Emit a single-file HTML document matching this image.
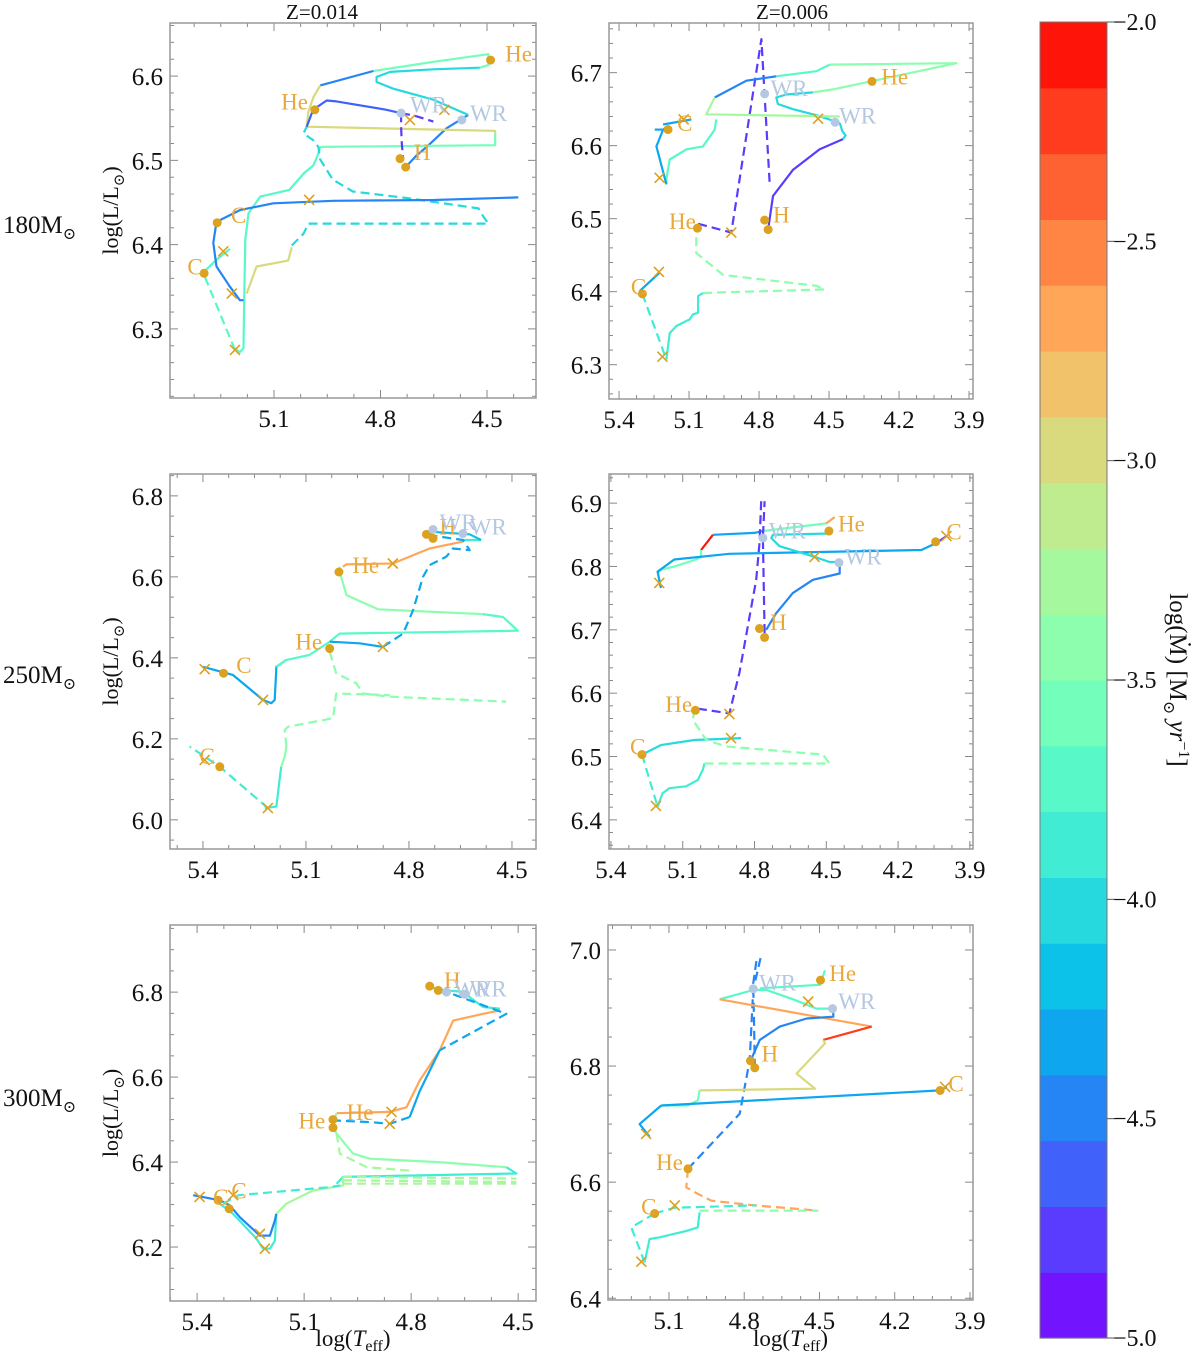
<!DOCTYPE html>
<html><head><meta charset="utf-8"><title>HR tracks</title>
<style>
html,body{margin:0;padding:0;background:#fff;}
svg{display:block;font-family:"Liberation Serif","DejaVu Serif",serif;}
svg text{font-family:"Liberation Serif","DejaVu Serif",serif;}
</style></head>
<body>
<svg id="fig" width="1200" height="1357" viewBox="0 0 1200 1357" xmlns="http://www.w3.org/2000/svg" font-family="Liberation Serif, DejaVu Serif, serif"></svg>
<script>
// ---------- DATA (logTeff, logL pairs; c = log Mdot colour value; d = dashed) ----------
const p1Tracks = [
 {c:-4.4,d:0,p:[4.729,6.492,4.698,6.506,4.670,6.516,4.614,6.538,4.553,6.554]},
 {c:-4.05,d:0,p:[4.553,6.554,4.651,6.572,4.764,6.585,4.811,6.593,4.811,6.599,4.773,6.605,4.651,6.608,4.520,6.610]},
 {c:-3.6,d:0,p:[4.520,6.610,4.496,6.613,4.496,6.626,4.651,6.617,4.820,6.606]},
 {c:-4.4,d:0,p:[4.820,6.606,4.970,6.589]},
 {c:-3.0,d:0,p:[4.970,6.589,4.989,6.575,5.003,6.558,5.008,6.540,4.477,6.535,4.477,6.532]},
 {c:-3.55,d:0,p:[4.477,6.532,4.477,6.518,4.970,6.516]},
 {c:-3.75,d:0,p:[4.970,6.516,4.975,6.508,4.989,6.494,5.015,6.485,5.057,6.465,5.139,6.457,5.172,6.437,5.181,6.406,5.184,6.334,5.186,6.277,5.197,6.272,5.210,6.277]},
 {c:-3.0,d:0,p:[5.177,6.342,5.149,6.374,5.060,6.381,5.050,6.397]},
 {c:-4.0,d:1,p:[5.050,6.399,5.017,6.413,5.003,6.425,4.496,6.425,4.510,6.433,4.524,6.443,4.720,6.455,4.878,6.463,4.934,6.477,4.970,6.501,4.975,6.516,4.990,6.524,5.017,6.532,5.008,6.540]},
 {c:-3.75,d:1,p:[5.210,6.275,5.299,6.366]},
 {c:-3.8,d:0,p:[5.297,6.368,5.262,6.382,5.224,6.395]},
 {c:-4.45,d:0,p:[5.186,6.334,5.196,6.334,5.224,6.350,5.262,6.374,5.271,6.402,5.262,6.427,5.196,6.441,5.102,6.449,4.933,6.452,4.651,6.453,4.412,6.456]},
 {c:-4.6,d:0,p:[5.008,6.540,4.990,6.560,4.952,6.571,4.924,6.570,4.783,6.560,4.742,6.556]},
 {c:-4.7,d:1,p:[4.742,6.556,4.704,6.553,4.651,6.546]},
 {c:-4.7,d:1,p:[4.742,6.556,4.742,6.540,4.740,6.520,4.736,6.501]}
];
const p1Circles = [4.490,6.619, 4.985,6.560, 4.745,6.502, 4.729,6.492, 5.260,6.426, 5.297,6.366];
const p1WR = [4.742,6.556, 4.571,6.548];
const p1Crosses = [4.620,6.560, 4.717,6.548, 5.001,6.453, 5.243,6.392, 5.219,6.342, 5.210,6.275];
const p1Labels = [["He",4.449,6.627],["He",5.080,6.570],["H",4.706,6.510],["C",5.221,6.435],["C",5.344,6.374]];
const p1WRLabels = [["WR",4.717,6.566],["WR",4.548,6.556]];

const p2Tracks = [
 {c:-4.85,d:1,p:[5.061,6.493,4.919,6.481,4.790,6.746,4.754,6.545]},
 {c:-4.85,d:0,p:[4.761,6.485,4.740,6.531,4.654,6.567,4.540,6.595,4.440,6.609]},
 {c:-4.0,d:0,p:[4.440,6.609,4.429,6.614,4.443,6.620,4.454,6.631]},
 {c:-4.1,d:0,p:[4.454,6.631,4.547,6.641,4.654,6.650,4.719,6.657,4.726,6.666,4.683,6.670,4.569,6.673]},
 {c:-3.4,d:0,p:[4.569,6.673,4.483,6.677,3.954,6.713,4.497,6.711]},
 {c:-3.7,d:0,p:[4.497,6.711,4.554,6.702,4.726,6.695]},
 {c:-4.4,d:0,p:[4.726,6.695,4.854,6.689,4.990,6.666]},
 {c:-3.3,d:0,p:[4.990,6.666,5.026,6.643,4.454,6.640]},
 {c:-3.8,d:0,p:[4.983,6.636,4.990,6.622,5.040,6.599,5.111,6.595,5.183,6.581,5.197,6.554,5.197,6.547]},
 {c:-4.3,d:0,p:[5.197,6.547,5.240,6.599,5.211,6.622,5.190,6.627]},
 {c:-4.3,d:0,p:[5.247,6.622,5.190,6.622]},
 {c:-4.3,d:0,p:[5.211,6.629,5.090,6.636]},
 {c:-4.3,d:0,p:[5.311,6.401,5.226,6.426]},
 {c:-3.85,d:1,p:[5.300,6.397,5.197,6.307]},
 {c:-3.85,d:0,p:[5.197,6.307,5.183,6.343,5.154,6.353,5.097,6.362,5.083,6.369,5.061,6.371,5.061,6.394,5.040,6.398]},
 {c:-3.45,d:1,p:[5.040,6.398,4.969,6.399,4.519,6.403,4.554,6.408,4.954,6.423,5.069,6.453,5.069,6.481,5.061,6.487]}
];
const p2Circles = [4.316,6.688, 4.776,6.498, 4.761,6.485, 5.064,6.487, 5.190,6.622, 5.300,6.397];
const p2WR = [4.776,6.671, 4.474,6.632];
const p2Crosses = [4.547,6.637, 4.919,6.481, 5.226,6.556, 5.123,6.636, 5.229,6.427, 5.214,6.311];
const p2Labels = [["He",4.276,6.695],["H",4.740,6.506],["He",5.186,6.497],["C",5.151,6.631],["C",5.349,6.407]];
const p2WRLabels = [["WR",4.751,6.679],["WR",4.457,6.641]];

const p3Tracks = [
 {c:-4.35,d:0,p:[5.400,6.378,5.313,6.358,5.283,6.337,5.225,6.296,5.201,6.288,5.191,6.296,5.186,6.378,5.157,6.395]},
 {c:-3.8,d:0,p:[5.186,6.378,5.157,6.395,5.090,6.407,5.031,6.440,5.002,6.460,4.483,6.467,4.526,6.501,4.585,6.508]},
 {c:-3.35,d:0,p:[4.585,6.508,4.890,6.520,4.982,6.555,5.002,6.612,5.002,6.625]},
 {c:-2.75,d:0,p:[4.992,6.625,4.982,6.631,4.847,6.633,4.740,6.670,4.643,6.687]},
 {c:-3.9,d:0,p:[4.643,6.691,4.590,6.691]},
 {c:-4.3,d:0,p:[5.031,6.440,4.944,6.436,4.876,6.427]},
 {c:-4.3,d:1,p:[4.876,6.427,4.817,6.460,4.788,6.518,4.759,6.600,4.740,6.629,4.691,6.650,4.672,6.670,4.623,6.666,4.643,6.691,4.740,6.703]},
 {c:-4.2,d:0,p:[4.740,6.703,4.730,6.711,4.623,6.705,4.590,6.691]},
 {c:-3.4,d:1,p:[5.031,6.415,5.012,6.362,4.953,6.337,4.934,6.312,4.856,6.304,4.517,6.292]},
 {c:-3.4,d:1,p:[5.157,6.181,5.162,6.222,5.152,6.230,5.021,6.251,5.012,6.312,4.856,6.308]},
 {c:-3.4,d:0,p:[5.172,6.131,5.162,6.156,5.157,6.181]},
 {c:-3.9,d:0,p:[5.172,6.131,5.177,6.098,5.186,6.033,5.220,6.029]},
 {c:-3.9,d:1,p:[5.211,6.029,5.351,6.131,5.439,6.181]}
];
const p3Circles = [4.749,6.705, 4.730,6.695, 5.004,6.612, 5.031,6.423, 5.340,6.362, 5.351,6.131];
const p3WR = [4.730,6.717, 4.643,6.707];
const p3Crosses = [4.847,6.633, 4.876,6.427, 5.395,6.372, 5.225,6.296, 5.395,6.148, 5.211,6.029];
const p3Labels = [["H",4.711,6.724],["He",4.965,6.629],["He",5.131,6.440],["C",5.303,6.382],["C",5.410,6.158]];
const p3WRLabels = [["WR",4.711,6.736],["WR",4.623,6.724]];

const p4Tracks = [
 {c:-4.35,d:0,p:[4.974,6.850,4.800,6.853,4.765,6.856]},
 {c:-3.6,d:0,p:[4.765,6.856,4.500,6.868,4.465,6.878]},
 {c:-2.7,d:0,p:[4.500,6.868,4.465,6.878]},
 {c:-2.1,d:0,p:[5.023,6.826,4.974,6.850]},
 {c:-3.6,d:0,p:[5.023,6.826,5.023,6.815,5.044,6.811,5.135,6.800,5.191,6.795,5.205,6.789]},
 {c:-4.3,d:0,p:[5.191,6.766,5.205,6.792,5.135,6.811,4.905,6.820,4.103,6.826,4.040,6.837]},
 {c:-4.85,d:0,p:[4.040,6.837,3.998,6.848]},
 {c:-4.0,d:0,p:[4.486,6.852,4.723,6.850,4.730,6.845,4.695,6.832,4.556,6.816,4.486,6.807,4.444,6.807]},
 {c:-4.4,d:0,p:[4.444,6.807,4.444,6.789,4.556,6.779,4.640,6.758,4.710,6.726,4.751,6.700]},
 {c:-4.85,d:1,p:[4.758,6.695,4.765,6.845,4.758,6.903]},
 {c:-4.85,d:1,p:[4.772,6.903,4.779,6.837,4.793,6.779,4.863,6.632,4.905,6.568,5.044,6.576]},
 {c:-4.0,d:0,p:[5.270,6.503,5.191,6.518,5.051,6.526,4.856,6.529]},
 {c:-3.9,d:1,p:[5.270,6.503,5.205,6.421]},
 {c:-3.9,d:0,p:[5.205,6.421,5.184,6.442,5.156,6.450,5.086,6.453,5.037,6.463,5.016,6.479,5.009,6.489]},
 {c:-3.5,d:1,p:[5.009,6.489,4.486,6.489,4.514,6.503,4.919,6.516,5.002,6.526,5.058,6.558,5.051,6.573]}
];
const p4Circles = [4.489,6.856, 4.043,6.839, 4.779,6.702, 4.758,6.688, 5.047,6.573, 5.270,6.503];
const p4WR = [4.765,6.845, 4.447,6.806];
const p4Crosses = [4.549,6.815, 3.998,6.848, 5.198,6.774, 4.905,6.567, 4.898,6.529, 5.212,6.422];
const p4Labels = [["He",4.451,6.868],["H",4.735,6.712],["He",5.173,6.583],["C",5.320,6.516],["C",3.998,6.855]];
const p4WRLabels = [["WR",4.740,6.857],["WR",4.423,6.816]];

const p5Tracks = [
 {c:-3.9,d:0,p:[4.753,6.812,4.701,6.804,4.645,6.800,4.636,6.788,4.598,6.765,4.551,6.761]},
 {c:-2.75,d:0,p:[4.551,6.757,4.598,6.749,4.682,6.733,4.720,6.663,4.776,6.592,4.813,6.529,4.860,6.518,5.009,6.515]},
 {c:-4.3,d:1,p:[4.682,6.795,4.533,6.749,4.720,6.663]},
 {c:-4.3,d:0,p:[4.720,6.663,4.776,6.567,4.804,6.506]},
 {c:-4.3,d:1,p:[4.804,6.506,4.860,6.490,4.916,6.494,5.019,6.498]},
 {c:-3.35,d:0,p:[5.009,6.515,5.019,6.498,5.019,6.482,5.009,6.467,4.963,6.420,4.916,6.408,4.724,6.400,4.533,6.388]},
 {c:-3.9,d:0,p:[4.533,6.388,4.505,6.373,4.991,6.365,5.009,6.349]},
 {c:-3.3,d:1,p:[5.009,6.467,5.000,6.420,4.925,6.388,4.804,6.380]},
 {c:-3.3,d:1,p:[4.991,6.365,4.505,6.361]},
 {c:-3.3,d:1,p:[4.991,6.357,4.505,6.353]},
 {c:-3.3,d:1,p:[4.991,6.349,4.505,6.349]},
 {c:-3.3,d:0,p:[4.991,6.365,4.991,6.345,5.075,6.333,5.150,6.302,5.178,6.278]},
 {c:-3.9,d:0,p:[5.178,6.278,5.182,6.215,5.196,6.196,5.215,6.196,5.234,6.220,5.299,6.278,5.336,6.302]},
 {c:-4.4,d:0,p:[5.411,6.322,5.336,6.310,5.308,6.298,5.280,6.270,5.224,6.227,5.196,6.227,5.182,6.263,5.178,6.278]},
 {c:-3.9,d:1,p:[5.327,6.302,5.284,6.322,5.028,6.341,4.999,6.345]}
];
const p5Circles = [4.748,6.814, 4.724,6.804, 5.019,6.500, 5.019,6.481, 5.341,6.310, 5.310,6.290];
const p5WR = [4.701,6.800, 4.650,6.795];
const p5Crosses = [4.855,6.518, 4.860,6.490, 5.393,6.318, 5.299,6.322, 5.224,6.231, 5.210,6.196];
const p5Labels = [["H",4.708,6.829],["He",4.981,6.518],["He",5.116,6.498],["C",5.355,6.318],["C",5.304,6.333]];
const p5WRLabels = [["WR",4.681,6.808],["WR",4.636,6.808]];

const p6Tracks = [
 {c:-4.55,d:1,p:[5.024,6.623,4.818,6.718,4.778,6.810,4.764,6.931,4.734,6.988]},
 {c:-4.55,d:1,p:[4.758,6.797,4.761,6.880,4.764,6.942,4.751,6.982]},
 {c:-3.7,d:0,p:[4.738,6.934,4.498,6.940,4.478,6.965]},
 {c:-3.7,d:0,p:[4.898,6.915,4.764,6.931,4.711,6.931,4.605,6.915,4.512,6.899,4.445,6.899]},
 {c:-2.7,d:0,p:[4.898,6.915,4.292,6.868]},
 {c:-2.2,d:0,p:[4.292,6.868,4.485,6.845]},
 {c:-3.0,d:0,p:[4.485,6.845,4.478,6.839,4.591,6.787,4.518,6.761,4.978,6.758]},
 {c:-3.6,d:0,p:[4.978,6.758,4.985,6.741,5.024,6.732,5.131,6.732]},
 {c:-4.3,d:0,p:[5.131,6.732,5.217,6.700,5.177,6.678]},
 {c:-4.3,d:0,p:[5.131,6.732,4.019,6.758,3.992,6.764]},
 {c:-4.4,d:0,p:[4.775,6.809,4.738,6.845,4.658,6.868,4.551,6.882,4.445,6.885,4.445,6.899]},
 {c:-2.7,d:1,p:[5.024,6.623,5.031,6.591,4.985,6.580,4.931,6.568,4.758,6.560,4.505,6.551]},
 {c:-3.9,d:1,p:[5.157,6.546,5.077,6.556,4.758,6.560]},
 {c:-3.9,d:1,p:[5.157,6.546,5.250,6.522,5.197,6.462]},
 {c:-3.9,d:0,p:[5.197,6.462,5.177,6.502,5.137,6.505,5.031,6.516,4.985,6.522,4.978,6.548]},
 {c:-3.45,d:1,p:[4.978,6.551,4.505,6.551]}
];
const p6Circles = [4.496,6.948, 4.775,6.809, 4.758,6.797, 4.019,6.758, 5.024,6.623, 5.157,6.546];
const p6WR = [4.764,6.933, 4.448,6.899];
const p6Crosses = [4.545,6.911, 5.191,6.683, 3.999,6.764, 5.077,6.560, 5.210,6.463];
const p6Labels = [["He",4.461,6.960],["H",4.731,6.822],["He",5.151,6.635],["C",5.211,6.558],["C",3.986,6.770]];
const p6WRLabels = [["WR",4.741,6.944],["WR",4.425,6.912]];

const cbarTicks = [-2.0,-2.5,-3.0,-3.5,-4.0,-4.5,-5.0];
const rowLabels = ["180","250","300"];
const colTitles = ["Z=0.014","Z=0.006"];

// ---------- helpers ----------
const NS="http://www.w3.org/2000/svg";
const svg=document.getElementById('fig');
const FF='Liberation Serif, DejaVu Serif, serif';
function mk(tag,attrs,parent){const e=document.createElementNS(NS,tag);for(const k in attrs)e.setAttribute(k,attrs[k]);if(tag==='text')e.setAttribute('font-family',FF);(parent||svg).appendChild(e);return e;}
const VMIN=-5,VMAX=-2,NB=20;
function cmap(v){let x=(v-VMIN)/(VMAX-VMIN);x=Math.max(0,Math.min(0.9999,x));x=(Math.floor(x*NB)+0.5)/NB;
 const r=Math.min(1,Math.abs(2*x-0.5)),g=Math.sin(Math.PI*x),b=Math.cos(Math.PI*x/2);
 return `rgb(${Math.round(r*255)},${Math.round(g*255)},${Math.round(b*255)})`;}
const GOLD="#dba11f", GOLDT="#e8a83a", WRC="#b4c8e2";

const panels=[
 {id:'p1',x0:170,x1:536,y0:23,y1:398,Tl:5.393,Tr:4.362,Lt:6.663,Lb:6.218,xt:[5.1,4.8,4.5],xm:0.075,yt:[6.3,6.4,6.5,6.6],ym:0.02,tr:p1Tracks,ci:p1Circles,wr:p1WR,cr:p1Crosses,lb:p1Labels,wl:p1WRLabels,ylab:true,xlab:false},
 {id:'p2',x0:609,x1:973,y0:23,y1:399,Tl:5.443,Tr:3.883,Lt:6.768,Lb:6.253,xt:[5.4,5.1,4.8,4.5,4.2,3.9],xm:0.075,yt:[6.3,6.4,6.5,6.6,6.7],ym:0.02,tr:p2Tracks,ci:p2Circles,wr:p2WR,cr:p2Crosses,lb:p2Labels,wl:p2WRLabels,ylab:false,xlab:false},
 {id:'p3',x0:170,x1:536,y0:474,y1:849,Tl:5.496,Tr:4.430,Lt:6.854,Lb:5.928,xt:[5.4,5.1,4.8,4.5],xm:0.075,yt:[6.0,6.2,6.4,6.6,6.8],ym:0.05,tr:p3Tracks,ci:p3Circles,wr:p3WR,cr:p3Crosses,lb:p3Labels,wl:p3WRLabels,ylab:true,xlab:false},
 {id:'p4',x0:609,x1:973,y0:474,y1:849,Tl:5.408,Tr:3.887,Lt:6.946,Lb:6.354,xt:[5.4,5.1,4.8,4.5,4.2,3.9],xm:0.075,yt:[6.4,6.5,6.6,6.7,6.8,6.9],ym:0.02,tr:p4Tracks,ci:p4Circles,wr:p4WR,cr:p4Crosses,lb:p4Labels,wl:p4WRLabels,ylab:false,xlab:false},
 {id:'p5',x0:170,x1:536,y0:925,y1:1301,Tl:5.476,Tr:4.450,Lt:6.958,Lb:6.073,xt:[5.4,5.1,4.8,4.5],xm:0.075,yt:[6.2,6.4,6.6,6.8],ym:0.05,tr:p5Tracks,ci:p5Circles,wr:p5WR,cr:p5Crosses,lb:p5Labels,wl:p5WRLabels,ylab:true,xlab:true},
 {id:'p6',x0:608,x1:973,y0:925,y1:1300,Tl:5.343,Tr:3.888,Lt:7.043,Lb:6.397,xt:[5.1,4.8,4.5,4.2,3.9],xm:0.075,yt:[6.4,6.6,6.8,7.0],ym:0.05,tr:p6Tracks,ci:p6Circles,wr:p6WR,cr:p6Crosses,lb:p6Labels,wl:p6WRLabels,ylab:false,xlab:true}
];

panels.forEach((P,pi)=>{
 const sx=T=>P.x0+(P.Tl-T)/(P.Tl-P.Tr)*(P.x1-P.x0);
 const sy=L=>P.y0+(P.Lt-L)/(P.Lt-P.Lb)*(P.y1-P.y0);
 const g=mk('g',{});
 
 
 const cid='clip'+P.id;
 const cp=mk('clipPath',{id:cid},g);mk('rect',{x:P.x0,y:P.y0,width:P.x1-P.x0,height:P.y1-P.y0},cp);
 const tg=mk('g',{stroke:'#888','stroke-width':1},g);
 
 
 const xs=P.xt[0];
 for(let k=-20;k<=40;k++){const T=xs-k*P.xm;if(T>P.Tl+1e-6||T<P.Tr-1e-6)continue;
  const maj=Math.abs(((xs-T)/0.3)-Math.round((xs-T)/0.3))<1e-6;const len=maj?8:4;const x=sx(T);
  mk('line',{x1:x,x2:x,y1:P.y1,y2:P.y1-len},tg);mk('line',{x1:x,x2:x,y1:P.y0,y2:P.y0+len},tg);}
 const ys=P.yt[0],ystep=P.yt[1]-P.yt[0];
 for(let k=-20;k<=60;k++){const L=ys+k*P.ym;if(L>P.Lt+1e-6||L<P.Lb-1e-6)continue;
  const q=(L-ys)/ystep;const maj=Math.abs(q-Math.round(q))<1e-6;const len=maj?8:4;const y=sy(L);
  mk('line',{x1:P.x0,x2:P.x0+len,y1:y,y2:y},tg);mk('line',{x1:P.x1,x2:P.x1-len,y1:y,y2:y},tg);}
 P.xt.forEach(T=>{const t=mk('text',{x:sx(T),y:P.y1+29,'text-anchor':'middle','font-size':25,fill:'#111'},g);t.textContent=T.toFixed(1);
  });
 P.yt.forEach(L=>{const t=mk('text',{x:P.x0-7,y:sy(L)+9,'text-anchor':'end','font-size':25,fill:'#111'},g);t.textContent=L.toFixed(1);
  });
 const dg=mk('g',{'clip-path':`url(#${cid})`},g);
 P.tr.forEach(tr=>{let pts=[];for(let i=0;i<tr.p.length;i+=2)pts.push(sx(tr.p[i]).toFixed(1)+','+sy(tr.p[i+1]).toFixed(1));
  const pl=mk('polyline',{points:pts.join(' '),fill:'none',stroke:cmap(tr.c),'stroke-width':2.2,'stroke-linejoin':'round','stroke-linecap':'butt'},dg);
  if(tr.d)pl.setAttribute('stroke-dasharray','9,5');
  
  });
 for(let i=0;i<P.ci.length;i+=2){const c=mk('circle',{cx:sx(P.ci[i]),cy:sy(P.ci[i+1]),r:4.5,fill:GOLD},dg);
  }
 for(let i=0;i<P.wr.length;i+=2){const c=mk('circle',{cx:sx(P.wr[i]),cy:sy(P.wr[i+1]),r:4.5,fill:WRC},dg);
  }
 for(let i=0;i<P.cr.length;i+=2){const x=sx(P.cr[i]),y=sy(P.cr[i+1]);
  const c=mk('path',{d:`M${x-5},${y-5}L${x+5},${y+5}M${x-5},${y+5}L${x+5},${y-5}`,stroke:GOLD,'stroke-width':1.6,fill:'none'},dg);
  }
 P.lb.forEach(l=>{const t=mk('text',{x:sx(l[1]),y:sy(l[2])+8,'font-size':23,fill:GOLDT},g);t.textContent=l[0];
  });
 P.wl.forEach(l=>{const t=mk('text',{x:sx(l[1]),y:sy(l[2])+8,'font-size':23,fill:WRC},g);t.textContent=l[0];
  });
 const fr=mk('rect',{x:P.x0,y:P.y0,width:P.x1-P.x0,height:P.y1-P.y0,fill:'none',stroke:'#999','stroke-width':1.5},g);
 
 if(P.ylab){const cy=(P.y0+P.y1)/2;const t=mk('text',{x:0,y:0,transform:`translate(118,${cy}) rotate(-90)`,'text-anchor':'middle','font-size':22,fill:'#111'},g);
  t.innerHTML='log(L/L<tspan font-size="15" dy="6">⊙</tspan><tspan dy="-6">)</tspan>';
  }
 if(P.xlab){const t=mk('text',{x:(P.x0+P.x1)/2,y:1346,'text-anchor':'middle','font-size':23,fill:'#111'},g);
  t.innerHTML='log(<tspan font-style="italic">T</tspan><tspan font-size="16" dy="5">eff</tspan><tspan dy="-5">)</tspan>';
  }
});

[[322,colTitles[0]],[792,colTitles[1]]].forEach(([x,s])=>{const t=mk('text',{x:x,y:19,'text-anchor':'middle','font-size':21,fill:'#111'});t.textContent=s;
 });
[233,683,1106].forEach((y,i)=>{const t=mk('text',{x:3,y:y,'font-size':25,fill:'#111'});
 t.innerHTML=rowLabels[i]+'M<tspan font-size="16" dy="6">⊙</tspan>';
 });

const cb={x:1040,w:67,yt:22,yb:1338};
const cg=mk('g',{});


for(let i=0;i<NB;i++){const v=VMIN+(i+0.5)*(VMAX-VMIN)/NB;const h=(cb.yb-cb.yt)/NB;
 const r=mk('rect',{x:cb.x,y:cb.yb-(i+1)*h,width:cb.w,height:h+0.6,fill:cmap(v)},cg);
 }
mk('rect',{x:cb.x,y:cb.yt,width:cb.w,height:cb.yb-cb.yt,fill:'none',stroke:'#777','stroke-width':1},cg);
cbarTicks.forEach(v=>{const y=cb.yt+(VMAX-v)/(VMAX-VMIN)*(cb.yb-cb.yt);
 mk('line',{x1:cb.x+cb.w,x2:cb.x+cb.w+8,y1:y,y2:y,stroke:'#555','stroke-width':1},cg);
 const t=mk('text',{x:cb.x+cb.w+6,y:y+8,'font-size':24,fill:'#111'},cg);t.textContent='\u2212'+Math.abs(v).toFixed(1);
 });
const ct=mk('text',{x:0,y:0,transform:'translate(1170,680) rotate(90)','text-anchor':'middle','font-size':25,fill:'#111'});
ct.innerHTML='log(M\u0307) [M<tspan font-size="16" dy="6">⊙</tspan><tspan dy="-6"> </tspan><tspan font-style="italic">yr</tspan><tspan font-size="16" dy="-9">\u22121</tspan><tspan dy="9">]</tspan>';


</script>
</body></html>
